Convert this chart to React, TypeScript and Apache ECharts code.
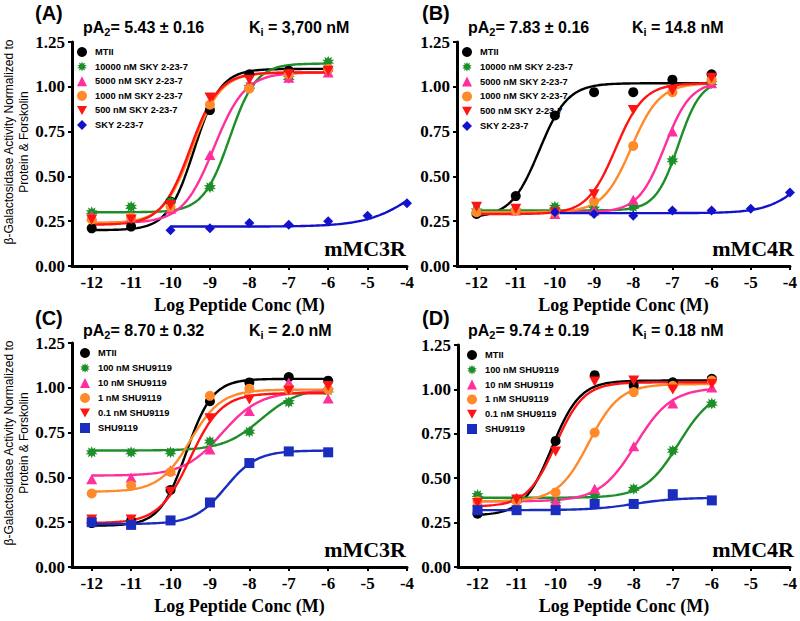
import React, { useEffect, useRef } from "react";
import * as echarts from "echarts";

// ---------- data ----------
const xTicks = [-12, -11, -10, -9, -8, -7, -6, -5, -4];
const logConc = [-12, -11, -10, -9, -8, -7, -6];
const skyConc = [-10, -9, -8, -7, -6, -5, -4];

const skyNames = ["MTII", "10000 nM SKY 2-23-7", "5000 nM SKY 2-23-7", "1000 nM SKY 2-23-7", "500 nM SKY 2-23-7", "SKY 2-23-7"];
const shuNames = ["MTII", "100 nM SHU9119", "10 nM SHU9119", "1 nM SHU9119", "0.1 nM SHU9119", "SHU9119"];

// Panel A: mMC3R, SKY 2-23-7
const aMTII = [0.21, 0.22, 0.36, 0.87, 1.07, 1.09, 1.10];
const aSky10000 = [0.30, 0.33, 0.36, 0.44, 1.00, 1.05, 1.14];
const aSky5000 = [0.28, 0.27, 0.32, 0.62, 1.02, 1.05, 1.08];
const aSky1000 = [0.26, 0.27, 0.33, 0.90, 0.99, 1.07, 1.10];
const aSky500 = [0.26, 0.26, 0.34, 0.94, 1.04, 1.07, 1.09];
const aSky = [0.20, 0.21, 0.24, 0.23, 0.25, 0.28, 0.35];
// fit parameters: [bottom, top, logEC50, hill]
const aFits = [
  [0.20, 1.10, -9.4, 1.3],
  [0.30, 1.13, -8.5, 1.3],
  [0.24, 1.08, -8.9, 1.1],
  [0.24, 1.08, -9.45, 1.2],
  [0.23, 1.08, -9.5, 1.2],
  [0.22, 0.60, -3.7, 0.7],
];

// Panel B: mMC4R, SKY 2-23-7
const bMTII = [0.29, 0.39, 0.84, 0.97, 0.97, 1.04, 1.07];
const bSky10000 = [0.31, 0.31, 0.33, 0.32, 0.33, 0.59, 1.02];
const bSky5000 = [0.31, 0.31, 0.29, 0.31, 0.37, 0.75, 1.02];
const bSky1000 = [0.30, 0.31, 0.30, 0.36, 0.67, 0.97, 1.04];
const bSky500 = [0.33, 0.32, 0.30, 0.40, 0.87, 0.98, 1.05];
const bSky = [0.30, 0.29, 0.28, 0.31, 0.31, 0.32, 0.41];
const bFits = [
  [0.27, 1.02, -10.4, 1.2],
  [0.31, 1.04, -6.85, 1.5],
  [0.30, 1.03, -7.2, 1.3],
  [0.30, 1.02, -8.05, 1.2],
  [0.29, 1.02, -8.45, 1.2],
  [0.295, 0.70, -3.5, 0.9],
];

// Panel C: mMC3R, SHU9119
const cMTII = [0.245, 0.26, 0.43, 0.925, 1.03, 1.06, 1.04];
const cShu100 = [0.64, 0.64, 0.64, 0.70, 0.755, 0.92, 0.985];
const cShu10 = [0.49, 0.50, 0.54, 0.655, 0.87, 1.03, 0.94];
const cShu1 = [0.41, 0.455, 0.53, 0.955, 0.995, 0.99, 0.99];
const cShu01 = [0.265, 0.265, 0.42, 0.83, 0.935, 0.985, 1.01];
const cShu = [0.25, 0.235, 0.26, 0.36, 0.58, 0.645, 0.64];
const cFits = [
  [0.23, 1.05, -9.6, 1.3],
  [0.65, 1.00, -7.7, 0.9],
  [0.51, 0.98, -8.7, 0.9],
  [0.42, 0.99, -9.5, 1.1],
  [0.245, 0.97, -9.5, 1.1],
  [0.24, 0.65, -8.6, 1.1],
];

// Panel D: mMC4R, SHU9119
const dMTII = [0.30, 0.38, 0.71, 1.08, 1.02, 1.04, 1.06];
const dShu100 = [0.405, 0.38, 0.37, 0.40, 0.44, 0.655, 0.92];
const dShu10 = [0.37, 0.39, 0.37, 0.44, 0.68, 0.92, 1.01];
const dShu1 = [0.37, 0.37, 0.42, 0.757, 0.985, 1.02, 1.05];
const dShu01 = [0.36, 0.38, 0.65, 1.045, 1.05, 1.00, 1.03];
const dShu = [0.32, 0.32, 0.32, 0.355, 0.355, 0.41, 0.375];
const dFits = [
  [0.29, 1.05, -10.1, 1.2],
  [0.39, 1.00, -6.85, 1.0],
  [0.37, 1.01, -7.95, 0.95],
  [0.37, 1.03, -9.15, 1.1],
  [0.34, 1.04, -10.0, 1.2],
  [0.32, 0.39, -8.0, 0.8],
];

const panelLabels = ["(A)", "(B)", "(C)", "(D)"];
const pA2Texts = ["= 5.43 ± 0.16", "= 7.83 ± 0.16", "= 8.70 ± 0.32", "= 9.74 ± 0.19"];
const kiTexts = [" = 3,700 nM", " = 14.8 nM", " = 2.0 nM", " = 0.18 nM"];
const receptorTexts = ["mMC3R", "mMC4R", "mMC3R", "mMC4R"];

// ---------- styling ----------
const STAR = (() => {
  const pts: string[] = [];
  const n = 10;
  for (let i = 0; i < n * 2; i++) {
    const r = i % 2 === 0 ? 10 : 5.8;
    const a = (Math.PI * i) / n - Math.PI / 2;
    pts.push(`${(10 + r * Math.cos(a)).toFixed(2)},${(10 + r * Math.sin(a)).toFixed(2)}`);
  }
  return "path://M" + pts.join(" L") + " Z";
})();
const DOWN_TRI = "path://M0,0 L10,0 L5,9 Z";

const colorsSky = ["#000000", "#1d8f28", "#ff2f9b", "#ff8a2a", "#ff1414", "#1212cc"];
const colorsShu = ["#000000", "#1d8f28", "#ff2f9b", "#ff8a2a", "#ff1414", "#1a2dbf"];
const symbolsSky = ["circle", STAR, "triangle", "circle", DOWN_TRI, "diamond"];
const symbolsShu = ["circle", STAR, "triangle", "circle", DOWN_TRI, "rect"];
const sizesSky: any[] = [10, 12, [11, 10], 10, [11, 10], [10, 10]];
const sizesShu: any[] = [10, 12, [11, 10], 10, [11, 10], 10];

const grids = [
  { left: 72, top: 42, width: 335, height: 224 },
  { left: 457, top: 42, width: 338, height: 224 },
  { left: 72, top: 343, width: 335, height: 224 },
  { left: 458, top: 345, width: 337, height: 222 },
];
const legendPos = [
  { left: 77, top: 47, gap: 4.6 },
  { left: 462, top: 47, gap: 4.8 },
  { left: 80, top: 348, gap: 5 },
  { left: 467, top: 350, gap: 4.8 },
];

const SERIF = "'Liberation Serif', 'Times New Roman', serif";
const SANS = "'Liberation Sans', Arial, sans-serif";

function logistic(p: number[], x: number) {
  const [bottom, top, ec50, hill] = p;
  return bottom + (top - bottom) / (1 + Math.pow(10, (ec50 - x) * hill));
}

function fitCurve(p: number[], x0: number, x1: number) {
  const out: number[][] = [];
  const n = 120;
  for (let i = 0; i <= n; i++) {
    const x = x0 + ((x1 - x0) * i) / n;
    out.push([x, logistic(p, x)]);
  }
  return out;
}

const panels = [
  { names: skyNames, values: [aMTII, aSky10000, aSky5000, aSky1000, aSky500, aSky], fits: aFits, colors: colorsSky, symbols: symbolsSky, sizes: sizesSky, lastConc: skyConc },
  { names: skyNames, values: [bMTII, bSky10000, bSky5000, bSky1000, bSky500, bSky], fits: bFits, colors: colorsSky, symbols: symbolsSky, sizes: sizesSky, lastConc: skyConc },
  { names: shuNames, values: [cMTII, cShu100, cShu10, cShu1, cShu01, cShu], fits: cFits, colors: colorsShu, symbols: symbolsShu, sizes: sizesShu, lastConc: logConc },
  { names: shuNames, values: [dMTII, dShu100, dShu10, dShu1, dShu01, dShu], fits: dFits, colors: colorsShu, symbols: symbolsShu, sizes: sizesShu, lastConc: logConc },
];

function buildOption() {
  const series: any[] = [];
  const legends: any[] = [];
  const xAxes: any[] = [];
  const yAxes: any[] = [];
  const graphics: any[] = [];

  panels.forEach((pn, pi) => {
    xAxes.push({
      gridIndex: pi,
      type: "value",
      min: -12.5,
      max: -4,
      name: "Log Peptide Conc (M)",
      nameLocation: "middle",
      nameGap: 30,
      nameTextStyle: { fontFamily: SERIF, fontWeight: "bold", fontSize: 18, color: "#000" },
      axisLine: { lineStyle: { color: "#000", width: 3 } },
      axisTick: { show: true, length: 4, lineStyle: { color: "#000", width: 2 }, customValues: xTicks },
      axisLabel: { customValues: xTicks, margin: 8, fontFamily: SERIF, fontWeight: "bold", fontSize: 17, color: "#000" },
      splitLine: { show: false },
    });
    yAxes.push({
      gridIndex: pi,
      type: "value",
      min: 0,
      max: 1.25,
      interval: 0.25,
      axisLine: { show: true, lineStyle: { color: "#000", width: 3 } },
      axisTick: { show: true, length: 4, lineStyle: { color: "#000", width: 2 } },
      axisLabel: { margin: 7, fontFamily: SERIF, fontWeight: "bold", fontSize: 17, color: "#000", formatter: (v: number) => v.toFixed(2) },
      splitLine: { show: false },
    });

    // fitted curves
    pn.fits.forEach((f, si) => {
      const range = si === 5 && pi < 2 ? [-10, -4] : [-12, -6];
      series.push({
        type: "line",
        name: `fit-${pi}-${si}`,
        xAxisIndex: pi,
        yAxisIndex: pi,
        data: fitCurve(f, range[0], range[1]),
        showSymbol: false,
        smooth: false,
        lineStyle: { color: pn.colors[si], width: 2.4 },
        z: 2,
        silent: true,
      });
    });
    // data points
    pn.values.forEach((vals, si) => {
      const conc = si === 5 ? pn.lastConc : logConc;
      series.push({
        type: "scatter",
        name: pn.names[si],
        xAxisIndex: pi,
        yAxisIndex: pi,
        data: vals.map((v, i) => [conc[i], v]),
        symbol: pn.symbols[si],
        symbolSize: pn.sizes[si],
        itemStyle: { color: pn.colors[si], opacity: 1 },
        z: 3,
      });
    });

    const lp = legendPos[pi];
    legends.push({
      orient: "vertical",
      left: lp.left,
      top: lp.top,
      padding: 0,
      itemWidth: 10,
      itemHeight: 10,
      itemGap: lp.gap,
      selectedMode: false,
      data: pn.names.map((n, si) => ({ name: n, icon: pn.symbols[si] })),
      textStyle: { fontFamily: SANS, fontWeight: "bold", fontSize: 9.3, color: "#000", lineHeight: 10, padding: [0, 0, 0, 3] },
    });

    const g = grids[pi];
    const labelX = pi % 2 === 0 ? 35 : 422;
    const labelY = pi < 2 ? 13 : 318;
    graphics.push({
      type: "text",
      x: labelX,
      y: labelY,
      style: { text: panelLabels[pi], font: `bold 20px ${SANS}`, fill: "#000", textVerticalAlign: "middle" },
    });
    const statY = pi < 2 ? 27 : 330;
    const pAx = pi % 2 === 0 ? 83 : 468;
    const kx = pi % 2 === 0 ? 249 : 632;
    const rich = {
      m: { fontFamily: SANS, fontWeight: "bold", fontSize: 16, lineHeight: 20, verticalAlign: "middle", fill: "#000" },
      s: { fontFamily: SANS, fontWeight: "bold", fontSize: 11, lineHeight: 11, verticalAlign: "bottom", fill: "#000" },
    };
    graphics.push({
      type: "text",
      x: pAx,
      y: statY,
      style: { text: `{m|pA}{s|2}{m|${pA2Texts[pi]}}`, rich, textVerticalAlign: "middle" },
    });
    graphics.push({
      type: "text",
      x: kx,
      y: statY,
      style: { text: `{m|K}{s|i}{m|${kiTexts[pi]}}`, rich, textVerticalAlign: "middle" },
    });
    graphics.push({
      type: "text",
      x: g.left + g.width - 1,
      y: pi < 2 ? 248 : 549,
      style: { text: receptorTexts[pi], font: `bold 22px ${SERIF}`, fill: "#000", textAlign: "right", textVerticalAlign: "middle" },
    });
    if (pi % 2 === 0) {
      graphics.push({
        type: "text",
        x: 16,
        y: pi < 2 ? 142 : 443,
        rotation: Math.PI / 2,
        style: {
          text: "β-Galactosidase Activity Normalized to\nProtein & Forskolin",
          font: `12px ${SANS}`,
          lineHeight: 15,
          fill: "#000",
          textAlign: "center",
          textVerticalAlign: "middle",
        },
      });
    }
  });

  return {
    animation: false,
    backgroundColor: "#ffffff",
    grid: grids.map((g) => ({ ...g, containLabel: false })),
    xAxis: xAxes,
    yAxis: yAxes,
    legend: legends,
    series,
    graphic: graphics,
  };
}

export default function App() {
  const ref = useRef<HTMLDivElement>(null);
  useEffect(() => {
    if (!ref.current) return;
    const chart = echarts.init(ref.current, undefined, { renderer: "svg" });
    chart.setOption(buildOption() as any);
    return () => chart.dispose();
  }, []);
  return <div ref={ref} style={{ position: "fixed", left: 0, top: 0, width: 800, height: 621, background: "#fff" }} />;
}
